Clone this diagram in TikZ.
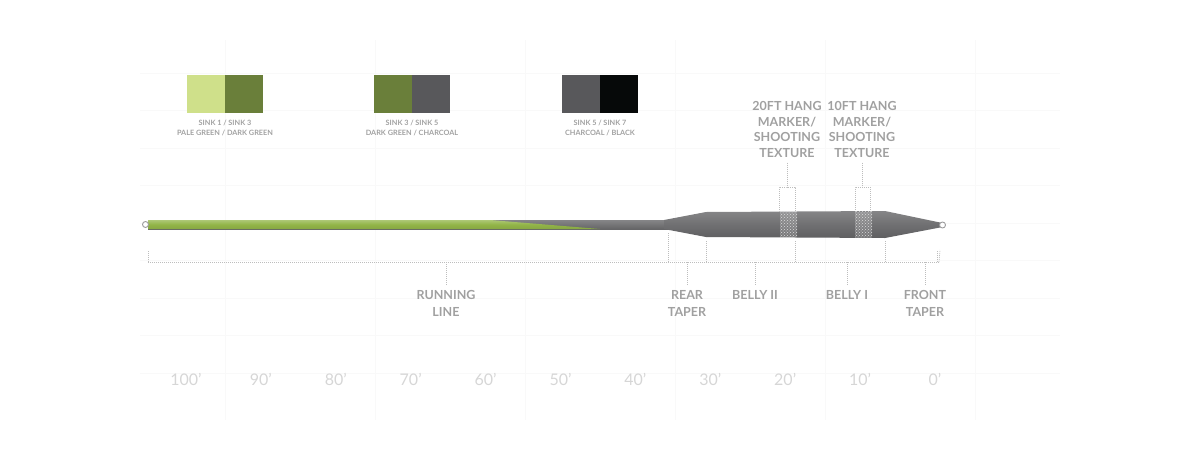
\documentclass[tikz,border=0pt]{standalone}
\usepackage{fontspec}
\setmainfont{Lato}
\usetikzlibrary{positioning,patterns}
\definecolor{palegreen}{HTML}{CFE08A}
\definecolor{darkgreen}{HTML}{6A7F3A}
\definecolor{charcoal}{HTML}{58585B}
\definecolor{inkblack}{HTML}{060909}
\definecolor{rungreen}{HTML}{92B548}
\definecolor{headgray}{HTML}{707072}
\definecolor{labelgray}{HTML}{A0A0A0}
\definecolor{scalegray}{HTML}{D6D6D6}
\definecolor{gridgray}{HTML}{F9F9F9}
\tikzset{
	swatchtext/.style={font=\fontsize{7.3}{9.5}\selectfont\bfseries, text=labelgray, align=center, inner sep=0pt},
	parttext/.style={font=\fontsize{12.5}{15.5}\selectfont\bfseries, text=labelgray, align=center, inner sep=0pt},
	scaletext/.style={font=\fontsize{16}{16}\selectfont, text=scalegray, inner sep=0pt},
	dashtick/.style={draw=labelgray!70, dash pattern=on 1pt off 1pt, line width=0.7pt},
}
\begin{document}
\begin{tikzpicture}[x=1pt, y=-1pt, line join=round, line cap=butt]
	\useasboundingbox (0,0) rectangle (1200,450);
	\def \ytop{220}
	\def \ybot{229}
	\def \ybar{262}
	% faint grid
	\foreach \gx in {225,375,525,675,825,975}
		\draw[gridgray, line width=0.6pt] (\gx,40) -- (\gx,420);
	\foreach \gy in {73,110.5,148,185.5,223,260.5,298,335.5,373}
		\draw[gridgray, line width=0.6pt] (140,\gy) -- (1060,\gy);
	% colour swatches
	\fill[palegreen] (187,75) rectangle (225,113);
	\fill[darkgreen] (225,75) rectangle (263,113);
	\fill[darkgreen] (374,75) rectangle (412,113);
	\fill[charcoal] (412,75) rectangle (450,113);
	\fill[charcoal] (562,75) rectangle (600,113);
	\fill[inkblack] (600,75) rectangle (638,113);
	\node[swatchtext, anchor=north] (sw1) at (225,120) {SINK 1 / SINK 3\\PALE GREEN / DARK GREEN};
	\node[swatchtext, anchor=north] (sw2) at (412,120) {SINK 3 / SINK 5\\DARK GREEN / CHARCOAL};
	\node[swatchtext, anchor=north] (sw3) at (600,120) {SINK 5 / SINK 7\\CHARCOAL / BLACK};
	% running line
	\shade[top color=headgray!85!white, bottom color=headgray!90!black] (148,\ytop) rectangle (668,\ybot);
	\shade[top color=rungreen!75!white, bottom color=rungreen!92!black, middle color=rungreen]
		(148,\ytop) -- (490,\ytop) -- (600,\ybot) -- (148,\ybot) -- cycle;
	% head
	\shade[top color=headgray!85!white, bottom color=headgray!85!black, middle color=headgray]
		(664,\ytop) -- (706,212) -- (885,211) -- (940,222.5) -- (940,227.5) -- (885,238) -- (706,237) -- (664,\ybot) -- cycle;
	\fill[white, opacity=0.15] (780,211.5) rectangle (797,237.5);
	\fill[pattern=crosshatch dots, pattern color=white!75!headgray] (780,211.5) rectangle (797,237.5);
	\fill[white, opacity=0.15] (855,211.5) rectangle (872,237.5);
	\fill[pattern=crosshatch dots, pattern color=white!75!headgray] (855,211.5) rectangle (872,237.5);
	% loops
	\draw[headgray!70, fill=white, line width=0.9pt] (145.5,224.5) circle (3);
	\draw[headgray!70, fill=white, line width=0.9pt] (942.5,225) circle (3);
	% hang markers
	\node[parttext, anchor=north] (hang20) at (787,101.5) {20FT HANG\\MARKER/\\SHOOTING\\TEXTURE};
	\node[parttext, anchor=north] (hang10) at (862,101.5) {10FT HANG\\MARKER/\\SHOOTING\\TEXTURE};
	\coordinate (h20) at (787,187);
	\coordinate (h10) at (862,187);
	\draw[dashtick] (hang20.south) ++(0,5) -- (h20);
	\draw[dashtick] (hang10.south) ++(0,5) -- (h10);
	\draw[dashtick] (779,212) |- (h20) -| (795,212);
	\draw[dashtick] (855,212) |- (h10) -| (870,212);
	% section brackets
	\coordinate (bl) at (148,\ybar);
	\coordinate (br) at (939,\ybar);
	\draw[dashtick] (bl) -- (br);
	\draw[dashtick] (bl) -- (148,250);
	\draw[dashtick] (668,\ybar) -- (668,233);
	\draw[dashtick] (706,\ybar) -- (706,240);
	\draw[dashtick] (795,\ybar) -- (795,240);
	\draw[dashtick] (885,\ybar) -- (885,240);
	\draw[dashtick] (937,\ybar) -- (937,250);
	\draw[dashtick] (br) -- (940,250);
	% section labels
	\node[parttext, anchor=north, font=\fontsize{12.5}{17}\selectfont\bfseries] (running) at (446,290) {RUNNING\\LINE};
	\node[parttext, anchor=north, font=\fontsize{12.5}{17}\selectfont\bfseries] (rear) at (687,290) {REAR\\TAPER};
	\node[parttext, anchor=north] (belly2) at (755,290) {BELLY II};
	\node[parttext, anchor=north] (belly1) at (847,290) {BELLY I};
	\node[parttext, anchor=north, font=\fontsize{12.5}{17}\selectfont\bfseries] (front) at (925,290) {FRONT\\TAPER};
	\foreach \n in {running,rear,belly2,belly1,front}
		\draw[dashtick] (\n.north |- bl) -- ([yshift=4pt]\n.north);
	% length scale
	\foreach \i [count=\k from 0] in {100,90,80,70,60,50,40,30,20,10,0}
		\node[scaletext] (s\i) at (186+74.9*\k,379) {\i'};
\end{tikzpicture}
\end{document}
